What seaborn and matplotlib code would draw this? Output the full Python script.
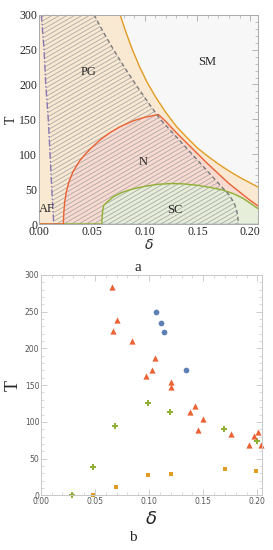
import numpy as np
import pandas as pd
import seaborn as sns
import matplotlib.pyplot as plt
from matplotlib.collections import LineCollection
from matplotlib.patches import Polygon
from matplotlib.ticker import MultipleLocator

# --- panel a: phase boundaries (delta, T) ---
af_d = [0.0019, 0.0045, 0.0061, 0.0085, 0.0102, 0.0118, 0.0137]
af_t = [300, 250, 200, 150, 100, 50, 0]

pg_d = [0.0519, 0.0608, 0.0704, 0.0806, 0.0915, 0.1029, 0.1148, 0.1300, 0.1450, 0.1600,
        0.1720, 0.1800, 0.1850, 0.1875, 0.1885, 0.1890]
pg_t = [300, 275, 250, 225, 200, 175, 150, 125, 100, 75, 55, 42, 30, 18, 8, 0]

sm_d = [0.0766, 0.0820, 0.0880, 0.0950, 0.1020, 0.1100, 0.1200, 0.1300, 0.1400, 0.1500,
        0.1600, 0.1700, 0.1800, 0.1900, 0.2000, 0.2075]
sm_t = [300, 276, 251, 226, 204, 183, 160, 140, 124, 109, 97, 86, 76, 67, 59, 53]

n_d = [0.0, 0.0228, 0.0232, 0.0240, 0.0255, 0.0280, 0.0320, 0.0380, 0.0434, 0.0500, 0.0580,
       0.0671, 0.0760, 0.0892, 0.1000, 0.1130, 0.1200, 0.1300, 0.1400, 0.1500, 0.1600,
       0.1700, 0.1800, 0.1900, 0.2000, 0.2075]
n_t = [0, 0, 15, 30, 45, 60, 75, 90, 100, 110, 121, 131, 139, 148, 153, 157, 147, 131, 116,
       101, 86, 72, 58, 46, 34, 26]

sc_d = [0.0, 0.0592, 0.0596, 0.0602, 0.0612, 0.0640, 0.0702, 0.0780, 0.0880, 0.1000, 0.1130,
        0.1250, 0.1370, 0.1500, 0.1620, 0.1746, 0.1850, 0.1930, 0.2000, 0.2075]
sc_t = [0, 0, 10, 20, 27, 31, 39, 45, 50, 54, 57, 58, 57.5, 55.5, 52.5, 48.5, 43, 37, 30, 22]

base_d = [0.0, 0.2075]
base_t = [0, 0]

labels_a = ["AF", "PG", "SM", "N", "SC"]
labels_a_d = [0.0070, 0.0465, 0.159, 0.0987, 0.1288]
labels_a_t = [21, 218, 232, 89, 20]

# --- panel b: measured points ---
tri_d = [0.0656, 0.0702, 0.0668, 0.0847, 0.1054, 0.1023, 0.0974, 0.1199, 0.1199,
         0.1421, 0.1375, 0.1500, 0.1455, 0.1760, 0.1968, 0.2002, 0.1918, 0.2032]
tri_t = [284, 239, 224, 210, 187, 170, 163, 154, 148, 121, 114, 104, 89, 83, 81, 86, 69, 69]
circ_d = [0.1063, 0.1110, 0.1140, 0.1344]
circ_t = [250, 235, 222, 171]
circ_over_d = [0.0905]
circ_over_t = [307]
plus_d = [0.0992, 0.1190, 0.0690, 0.1693, 0.1995, 0.0486, 0.0285]
plus_t = [126, 113, 94, 90, 74, 39, 0]
sq_d = [0.0696, 0.0992, 0.1199, 0.1700, 0.1986, 0.0486]
sq_t = [11, 28, 29.5, 36, 33, 0.5]

blue, orange, green, red, purple = "#5E81B5", "#E19C24", "#8FB032", "#EB6235", "#8778B3"

sns.set_theme(style="ticks")
plt.rcParams["font.family"] = ["Liberation Serif", "DejaVu Serif"]

fig = plt.figure(figsize=(2.73, 5.5), dpi=100)

# ================= panel a =================
ax = fig.add_axes([0.144, 0.5927, 0.801, 0.3805])
ax.set_facecolor("#F7F7F7")
ax.set_xlim(0, 0.2075)
ax.set_ylim(0, 300)

ax.fill([0, 0] + sm_d + [0.2075], [0, 300] + sm_t + [0], color="#F9E8D2", lw=0)
ax.fill(n_d + [0.2075], n_t + [0], color="#F8DAD0", lw=0)
ax.fill(sc_d + [0.2075], sc_t + [0], color="#E6EDD8", lw=0)

# hatching of the PG region
pg_poly = list(zip(af_d, af_t)) + list(zip(pg_d[::-1], pg_t[::-1]))
clip = Polygon(pg_poly, closed=True, transform=ax.transData, fc="none", ec="none")
ax.add_patch(clip)
w_px, h_px = 218.0, 209.0
slope = np.tan(np.radians(30)) * w_px / h_px
segs = [[(0, c), (1, c + slope)] for c in np.arange(-slope, 1.0, 4.3 / h_px)]
lc = LineCollection(segs, colors="#A5A5A5", linewidths=0.55, transform=ax.transAxes)
lc.set_clip_path(clip)
ax.add_collection(lc)

curves = [
    (base_d, base_t, blue),
    (sm_d, sm_t, orange),
    (sc_d, sc_t, green),
    (n_d, n_t, red),
]
for xs, ys, col in curves:
    sns.lineplot(x=xs, y=ys, sort=False, estimator=None, color=col, lw=1.0, ax=ax)
ax.plot(pg_d, pg_t, color="#7A7A7A", lw=1.0, ls=(0, (3, 2)))
ax.plot(af_d, af_t, color=purple, lw=1.0, ls=(0, (5, 1.5, 1, 1.5)))

for txt, xd, yt in zip(labels_a, labels_a_d, labels_a_t):
    ax.text(xd, yt, txt, ha="center", va="center", fontsize=9)

ax.xaxis.set_major_locator(MultipleLocator(0.05))
ax.xaxis.set_minor_locator(MultipleLocator(0.01))
ax.yaxis.set_major_locator(MultipleLocator(50))
ax.yaxis.set_minor_locator(MultipleLocator(10))
ax.xaxis.set_major_formatter(plt.FuncFormatter(lambda v, p: f"{v:.2f}"))
ax.tick_params(which="both", direction="in", top=True, right=True, color="#AAAAAA",
               labelsize=8.5, pad=1.5)
ax.tick_params(which="major", length=4, width=0.6)
ax.tick_params(which="minor", length=2, width=0.5)
for s in ax.spines.values():
    s.set_color("#AAAAAA")
    s.set_linewidth(0.7)
ax.set_xlabel(r"$\delta$", fontsize=10, labelpad=0)
ax.set_ylabel("T", fontsize=10, labelpad=1)
fig.text(0.505, 0.514, "a", ha="center", va="center", fontsize=11)

# ================= panel b =================
bx = fig.add_axes([0.149, 0.0995, 0.811, 0.4005])
bx.set_facecolor("white")
bx.set_xlim(0, 0.2043)
bx.set_ylim(0, 300)

pts = pd.DataFrame({
    "delta": tri_d + circ_d + plus_d + sq_d,
    "T": tri_t + circ_t + plus_t + sq_t,
    "kind": ["tri"] * len(tri_d) + ["circ"] * len(circ_d) + ["plus"] * len(plus_d) + ["sq"] * len(sq_d),
})
sizes = {"tri": 20, "circ": 17, "plus": 22, "sq": 9}
marks = {"tri": "^", "circ": "o", "plus": "P", "sq": "s"}
cols = {"tri": red, "circ": blue, "plus": green, "sq": orange}
for k in ["sq", "plus", "tri", "circ"]:
    sub = pts[pts["kind"] == k]
    sns.scatterplot(data=sub, x="delta", y="T", color=cols[k], marker=marks[k], s=sizes[k],
                    linewidth=0, clip_on=False, legend=False, ax=bx)
bx.scatter(circ_over_d, circ_over_t, color=blue, s=17, lw=0, clip_on=True)

bx.xaxis.set_major_locator(MultipleLocator(0.05))
bx.xaxis.set_minor_locator(MultipleLocator(0.01))
bx.yaxis.set_major_locator(MultipleLocator(50))
bx.yaxis.set_minor_locator(MultipleLocator(10))
bx.xaxis.set_major_formatter(plt.FuncFormatter(lambda v, p: f"{v:.2f}"))
bx.tick_params(which="both", direction="in", top=True, right=True, color="#BBBBBB",
               labelsize=5.5, labelcolor="#555555", pad=1)
bx.tick_params(which="major", length=4, width=0.5)
bx.tick_params(which="minor", length=2, width=0.4)
for lab in bx.get_xticklabels() + bx.get_yticklabels():
    lab.set_family("DejaVu Sans")
for s in bx.spines.values():
    s.set_color("#C8C8C8")
    s.set_linewidth(0.7)
bx.set_xlabel(r"$\delta$", fontsize=13, labelpad=4)
bx.set_ylabel("T", fontsize=13, labelpad=2)
fig.text(0.487, 0.022, "b", ha="center", va="center", fontsize=11)

fig.savefig("out.png", dpi=100)
